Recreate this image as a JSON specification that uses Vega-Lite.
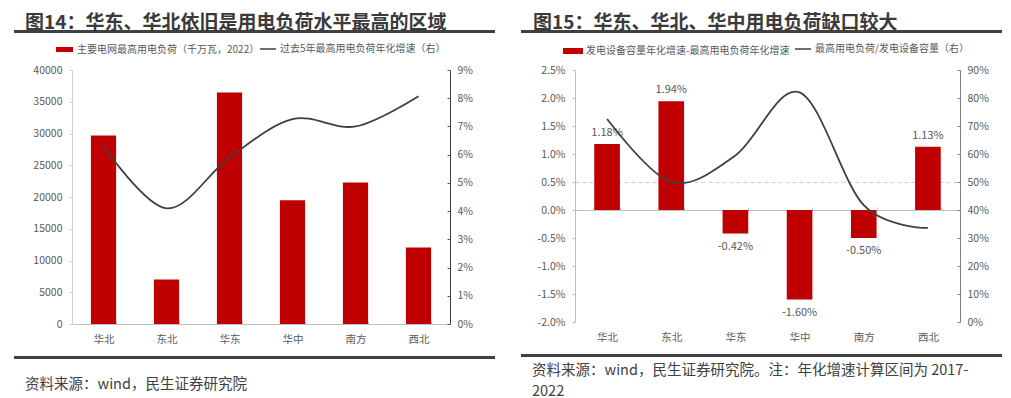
{
  "$schema": "https://vega.github.io/schema/vega-lite/v6.json",
  "background": "white",
  "padding": {"left": 14, "top": 14, "right": 0, "bottom": 0},
  "config": {
    "view": {"stroke": null},
    "font": "Noto Sans CJK SC",
    "locale": {"number": {"decimal": ".", "thousands": ",", "grouping": [3], "currency": ["", ""], "minus": "-"}},
    "axis": {"labelFont": "Noto Sans CJK SC", "labelFontSize": 10.5, "labelColor": "#595959", "grid": false, "title": null},
    "legend": {"labelFont": "Noto Sans CJK SC", "labelFontSize": 10, "labelColor": "#595959", "title": null, "labelLimit": 400}
  },
  "datasets": {
    "load": [
      {"region": "华北", "peak": 29700, "growth": 0.063},
      {"region": "东北", "peak": 7000, "growth": 0.041},
      {"region": "华东", "peak": 36450, "growth": 0.059},
      {"region": "华中", "peak": 19500, "growth": 0.0726},
      {"region": "南方", "peak": 22300, "growth": 0.070},
      {"region": "西北", "peak": 12050, "growth": 0.0807}
    ],
    "gap": [
      {"region": "华北", "gap": 0.0118, "ratio": 0.725},
      {"region": "东北", "gap": 0.0194, "ratio": 0.50},
      {"region": "华东", "gap": -0.0042, "ratio": 0.595},
      {"region": "华中", "gap": -0.016, "ratio": 0.82},
      {"region": "南方", "gap": -0.005, "ratio": 0.417},
      {"region": "西北", "gap": 0.0113, "ratio": 0.336}
    ]
  },
  "resolve": {"scale": {"fill": "independent", "stroke": "independent"}},
  "spacing": 26,
  "hconcat": [
    {
      "spacing": 11,
      "resolve": {"scale": {"fill": "independent", "stroke": "independent"}},
      "vconcat": [
        {
          "spacing": 7,
          "resolve": {"scale": {"fill": "independent", "stroke": "independent"}},
          "vconcat": [
            {
              "width": 481, "height": 3,
              "view": {"fill": "#404040", "stroke": null},
              "title": {"text": "图14：华东、华北依旧是用电负荷水平最高的区域", "anchor": "start", "fontSize": 19, "fontWeight": "bold", "color": "#3a3a3a", "dx": 11, "offset": -3, "font": "Noto Sans CJK SC"},
              "data": {"values": []},
              "mark": "text",
              "encoding": {}
            },
            {
              "width": 481, "height": 254,
              "data": {"name": "load"},
              "layer": [
                {
                  "mark": {"type": "bar", "color": "#C00000"},
                  "encoding": {
                    "x": {"field": "region", "type": "nominal", "sort": null,
                          "scale": {"paddingInner": 0.6, "paddingOuter": 0.3, "range": [58, 436]},
                          "axis": {"labelAngle": 0, "domainColor": "#bfbfbf", "tickColor": "#bfbfbf", "tickSize": -3, "tickBand": "extent", "labelPadding": 13, "labelFontSize": 10.5}},
                    "y": {"field": "peak", "type": "quantitative",
                          "scale": {"domain": [0, 40000]},
                          "axis": {"values": [0, 5000, 10000, 15000, 20000, 25000, 30000, 35000, 40000], "format": "d", "offset": -58, "domainColor": "#d0d0d0", "tickColor": "#d0d0d0", "tickSize": 3, "labelPadding": 7}},
                    "fill": {"datum": "主要电网最高用电负荷（千万瓦，2022）", "scale": {"range": ["#C00000"]},
                             "legend": {"orient": "none", "legendX": 41, "legendY": -30, "symbolType": "M-1,-0.3H1V0.3H-1Z", "symbolSize": 289, "labelOffset": 3}}
                  }
                },
                {
                  "mark": {"type": "line", "interpolate": "cardinal", "tension": 0, "strokeWidth": 1.8},
                  "encoding": {
                    "x": {"field": "region", "type": "nominal", "sort": null},
                    "y": {"field": "growth", "type": "quantitative",
                          "scale": {"domain": [0, 0.09]},
                          "axis": {"orient": "right", "values": [0, 0.01, 0.02, 0.03, 0.04, 0.05, 0.06, 0.07, 0.08, 0.09], "format": ".0%", "offset": -45, "domainColor": "#404040", "tickColor": "#595959", "tickSize": -3, "labelPadding": 10}},
                    "stroke": {"datum": "过去5年最高用电负荷年化增速（右）", "scale": {"range": ["#404040"]},
                               "legend": {"orient": "none", "legendX": 245, "legendY": -30, "symbolType": "stroke", "symbolSize": 256, "symbolStrokeWidth": 1.5, "labelOffset": 3}}
                  }
                }
              ],
              "resolve": {"scale": {"y": "independent"}}
            }
          ]
        },
        {
          "width": 481, "height": 3,
          "view": {"fill": "#404040", "stroke": null},
          "title": {"text": "资料来源：wind，民生证券研究院", "orient": "bottom", "anchor": "start", "fontSize": 14.5, "fontWeight": "normal", "color": "#404040", "dx": 11, "offset": 19, "font": "Noto Sans CJK SC"},
          "data": {"values": []},
          "mark": "text",
          "encoding": {}
        }
      ]
    },
    {
      "spacing": 11,
      "resolve": {"scale": {"fill": "independent", "stroke": "independent"}},
      "vconcat": [
        {
          "spacing": 7,
          "resolve": {"scale": {"fill": "independent", "stroke": "independent"}},
          "vconcat": [
            {
              "width": 481, "height": 3,
              "view": {"fill": "#404040", "stroke": null},
              "title": {"text": "图15：华东、华北、华中用电负荷缺口较大", "anchor": "start", "fontSize": 19, "fontWeight": "bold", "color": "#3a3a3a", "dx": 12, "offset": -3, "font": "Noto Sans CJK SC"},
              "data": {"values": []},
              "mark": "text",
              "encoding": {}
            },
            {
              "width": 481, "height": 252,
              "data": {"name": "gap"},
              "layer": [
                {
                  "encoding": {
                    "x": {"field": "region", "type": "nominal", "sort": null,
                          "scale": {"paddingInner": 0.6, "paddingOuter": 0.3, "range": [54, 439]},
                          "axis": {"labelAngle": 0, "offset": -112, "domainColor": "#bfbfbf", "tickColor": "#bfbfbf", "tickSize": -3, "tickBand": "extent", "labelPadding": 125, "labelFontSize": 10.5}},
                    "y": {"field": "gap", "type": "quantitative",
                          "scale": {"domain": [-0.02, 0.025]},
                          "axis": {"values": [-0.02, -0.015, -0.01, -0.005, 0, 0.005, 0.01, 0.015, 0.02, 0.025], "format": ".1%", "offset": -54, "domainColor": "#bfbfbf", "tickColor": "#bfbfbf", "tickSize": 3, "labelPadding": 7,
                                   "grid": true, "gridColor": "#c5d1e0", "gridDash": [4, 3], "gridWidth": 1,
                                   "gridOpacity": {"condition": {"test": "datum.value === 0.005", "value": 1}, "value": 0}}}
                  },
                  "layer": [
                    {
                      "mark": {"type": "bar", "color": "#C00000"},
                      "encoding": {
                        "fill": {"datum": "发电设备容量年化增速-最高用电负荷年化增速", "scale": {"range": ["#C00000"]},
                                 "legend": {"orient": "none", "legendX": 41, "legendY": -30, "symbolType": "M-1,-0.3H1V0.3H-1Z", "symbolSize": 400, "labelOffset": 2}}
                      }
                    },
                    {
                      "transform": [{"filter": "datum.gap >= 0"}],
                      "mark": {"type": "text", "baseline": "bottom", "dy": -6, "fontSize": 11, "color": "#595959"},
                      "encoding": {
                        "text": {"field": "gap", "type": "quantitative", "format": ".2%"}
                      }
                    },
                    {
                      "transform": [{"filter": "datum.gap < 0"}],
                      "mark": {"type": "text", "baseline": "top", "dy": 7, "fontSize": 11, "color": "#595959"},
                      "encoding": {
                        "text": {"field": "gap", "type": "quantitative", "format": ".2%"}
                      }
                    }
                  ]
                },
                {
                  "mark": {"type": "line", "interpolate": "cardinal", "tension": 0, "strokeWidth": 1.8},
                  "encoding": {
                    "x": {"field": "region", "type": "nominal", "sort": null},
                    "y": {"field": "ratio", "type": "quantitative",
                          "scale": {"domain": [0, 0.9]},
                          "axis": {"orient": "right", "values": [0, 0.1, 0.2, 0.3, 0.4, 0.5, 0.6, 0.7, 0.8, 0.9], "format": ".0%", "offset": -42, "domainColor": "#808080", "tickColor": "#808080", "tickSize": -3, "labelPadding": 10}},
                    "stroke": {"datum": "最高用电负荷/发电设备容量（右）", "scale": {"range": ["#404040"]},
                               "legend": {"orient": "none", "legendX": 273, "legendY": -30, "symbolType": "stroke", "symbolSize": 256, "symbolStrokeWidth": 1.5, "labelOffset": 3}}
                  }
                }
              ],
              "resolve": {"scale": {"y": "independent"}}
            }
          ]
        },
        {
          "width": 481, "height": 3,
          "view": {"fill": "#404040", "stroke": null},
          "title": {"text": ["资料来源：wind，民生证券研究院。注：年化增速计算区间为 2017-", "2022"], "orient": "bottom", "anchor": "start", "fontSize": 14.5, "fontWeight": "normal", "color": "#404040", "dx": 11, "offset": 7, "lineHeight": 21, "font": "Noto Sans CJK SC"},
          "data": {"values": []},
          "mark": "text",
          "encoding": {}
        }
      ]
    }
  ]
}
